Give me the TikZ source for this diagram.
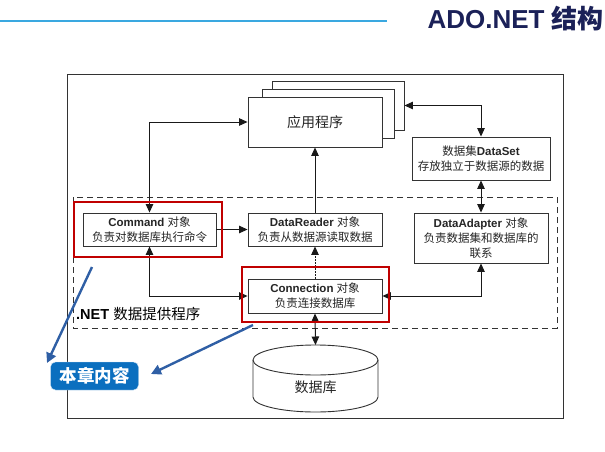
\documentclass[tikz,border=0pt]{standalone}
\usepackage{fontspec}
\setmainfont{Liberation Sans}
\newfontfamily\cjk{Noto Sans CJK SC}
\usetikzlibrary{calc,arrows.meta}
\definecolor{boxline}{HTML}{333333}
\definecolor{redline}{HTML}{C00000}
\definecolor{bluearr}{HTML}{2F5FA5}
\definecolor{tagblue}{HTML}{0B6FBF}
\definecolor{headline}{HTML}{3AA8E0}
\definecolor{navy}{HTML}{1B2158}
\newcommand{\zh}[1]{{\cjk #1}}

\begin{document}
\begin{tikzpicture}[x=1pt,y=-1pt,>={Triangle[length=8.5pt,width=7.5pt]},
  box/.style={draw=boxline,line width=0.9pt,fill=white,align=center,
    inner sep=1pt,font=\fontsize{11.5}{15}\selectfont,text=black!85},
  link/.style={line width=1pt,draw=black!90},
  redbox/.style={draw=redline,line width=1.8pt},
  bluearrow/.style={draw=bluearr,line width=2.4pt,-{Triangle[length=10pt,width=10pt]}},
  tagbox/.style={fill=tagblue,draw=white!80!tagblue,rounded corners=5pt,
    minimum width=88pt,minimum height=28pt,text=white,
    font=\fontsize{17.5}{20}\selectfont\bfseries\cjk}]
\useasboundingbox (0,0) rectangle (605,452);

% header
\draw[headline,line width=2pt] (0,21) -- (387,21);
\node[anchor=base east,inner sep=0pt,text=navy,font=\fontsize{26}{30}\selectfont\bfseries]
  (title) at (604,29) {ADO.NET \zh{结构}};

% frames
\draw[boxline,line width=0.9pt] (67,74) rectangle (563,418);
\draw[boxline,line width=1pt,dash pattern=on 6pt off 4pt] (73,197) rectangle (557,328);
\node[anchor=west,inner sep=1pt,font=\fontsize{14.5}{16}\selectfont] (netlbl) at (75,314)
  {\textbf{.NET} \zh{数据提供程序}};

% application (stacked)
\node[box,minimum width=132pt,minimum height=49pt] (app3) at (338,105.5) {};
\node[box,minimum width=132pt,minimum height=49pt] (app2) at (328,113.5) {};
\node[box,minimum width=134pt,minimum height=50pt,font=\fontsize{14}{16}\selectfont\cjk] (app) at (315,122) {应用程序};

\node[box,minimum width=138pt,minimum height=43pt] (dataset) at (481,158.5)
  {\zh{数据集}\textbf{DataSet}\\ \zh{存放独立于数据源的数据}};

\node[box,minimum width=133pt,minimum height=33pt] (cmd) at (149.5,229.5)
  {\textbf{Command} \zh{对象}\\ \zh{负责对数据库执行命令}};
\node[box,minimum width=134pt,minimum height=33pt] (reader) at (315,229.5)
  {\textbf{DataReader} \zh{对象}\\ \zh{负责从数据源读取数据}};
\node[box,minimum width=134pt,minimum height=50pt] (adapter) at (481,238)
  {\textbf{DataAdapter} \zh{对象}\\ \zh{负责数据集和数据库的}\\ \zh{联系}};
\node[box,minimum width=134pt,minimum height=34pt] (conn) at (315,296)
  {\textbf{Connection} \zh{对象}\\ \zh{负责连接数据库}};

% database
\draw[boxline,line width=0.9pt,fill=white] (253,360) -- (253,397)
  arc[start angle=180,end angle=0,x radius=62.5,y radius=15] -- (378,360);
\draw[boxline,line width=0.9pt] (315.5,360) ellipse[x radius=62.5,y radius=15];
\coordinate (dbtop) at (315.5,345);
\node[font=\fontsize{14}{16}\selectfont\cjk,text=black!85] (db) at (315.5,387) {数据库};

% connectors
\draw[link,<->] (cmd.north) |- (app.west);
\draw[link,->] (reader.north) -- (app.south);
\draw[link,<->] (dataset.north) |- (app3.east);
\draw[link,<->] (adapter.north) -- (dataset.south);
\draw[link,->] (cmd.east) -- (reader.west);
\draw[link,->,dash pattern=on 1.5pt off 1.5pt] (conn.north) -- (reader.south);
\draw[link,<->] (cmd.south) |- (conn.west);
\draw[link,<->] (adapter.south) |- (conn.east);
\draw[link,<->] (conn.south) -- (dbtop);

% highlight
\draw[redbox] (74,202) rectangle (222,257);
\draw[redbox] (242,267) rectangle (389,322);

% chapter tag
\node[tagbox] (tag) at (94.5,376) {本章内容};
\coordinate (tip1) at (47,363);
\coordinate (tip2) at (151,374);
\draw[bluearrow] (92,267) -- (tip1);
\draw[bluearrow] (253,325) -- (tip2);
\end{tikzpicture}
\end{document}
